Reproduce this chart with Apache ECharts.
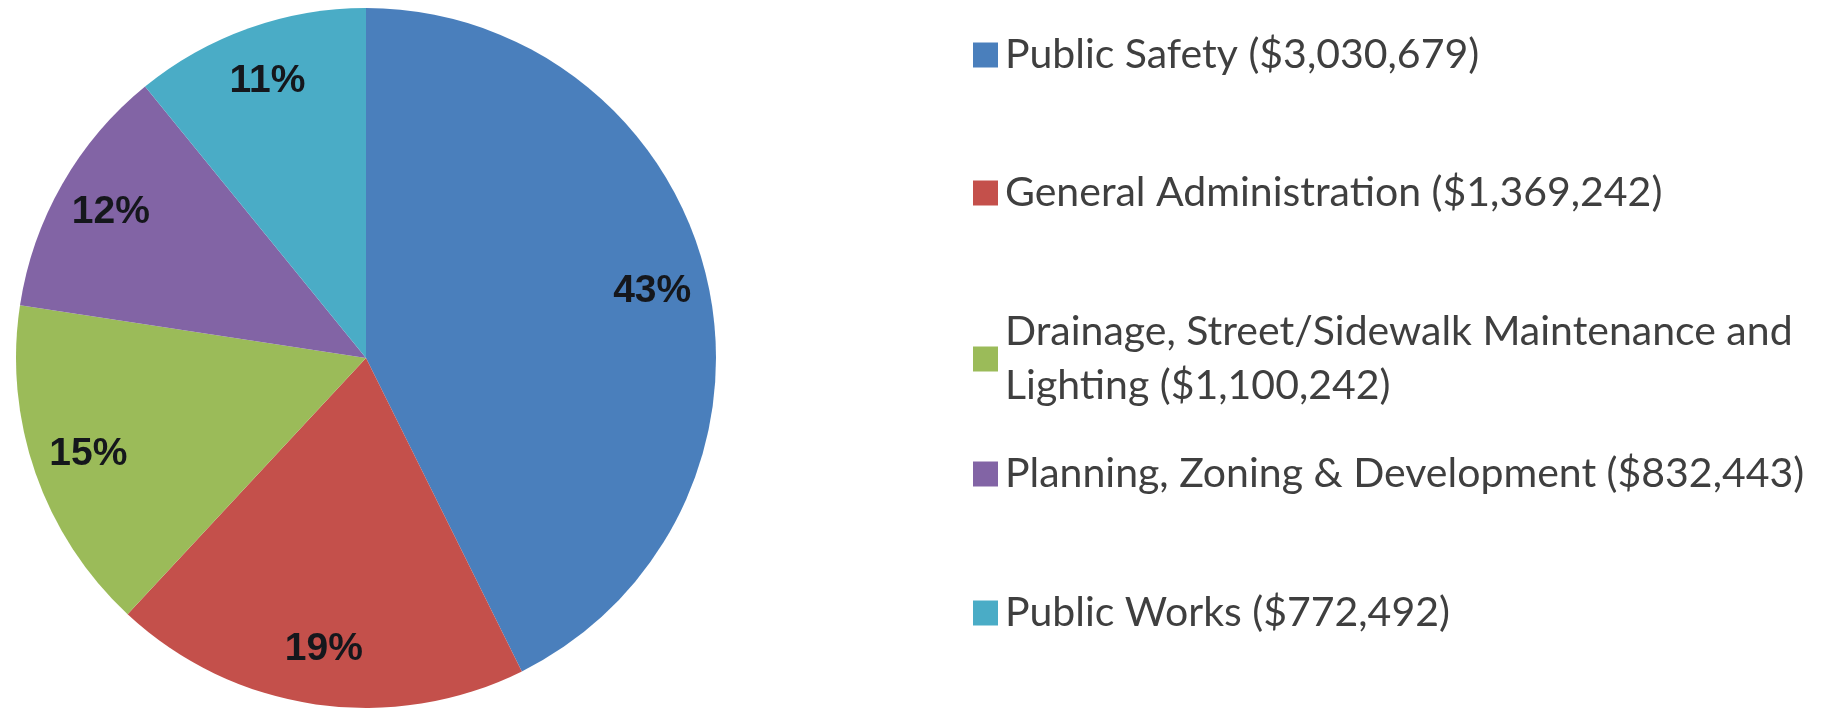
<!DOCTYPE html>
<html>
<head>
<meta charset="utf-8">
<script src="https://cdn.jsdelivr.net/npm/echarts@6/dist/echarts.min.js"></script>
<style>
  html, body { margin: 0; padding: 0; background: #fff; }
  #chart { width: 1822px; height: 709px; }
</style>
</head>
<body>
<div id="chart"></div>
<script>
// budget by department
var categories = [
    'Public Safety',
    'General Administration',
    'Drainage, Street/Sidewalk Maintenance and Lighting',
    'Planning, Zoning & Development',
    'Public Works'
];
var amounts = [3030679, 1369242, 1100242, 832443, 772492];
var legendText = [
    'Public Safety ($3,030,679)',
    'General Administration ($1,369,242)',
    'Drainage, Street/Sidewalk Maintenance and\nLighting ($1,100,242)',
    'Planning, Zoning & Development ($832,443)',
    'Public Works ($772,492)'
];
var colors = ['#4a7fbc', '#c4504b', '#9bbb59', '#8264a5', '#4aacc6'];

var myChart = echarts.init(document.getElementById('chart'));

var pieData = categories.map(function (name, i) {
    return { name: name, value: amounts[i], itemStyle: { color: colors[i] } };
});

// top of each legend box, tuned so the icons sit where the original has them
var rowTop = [23, 161, 273, 442, 581];
var legends = categories.map(function (name, i) {
    var twoLine = legendText[i].indexOf('\n') >= 0;
    return {
        orient: 'vertical',
        left: 968,
        top: rowTop[i],
        itemWidth: 25,
        itemHeight: 25,
        icon: 'rect',
        selectedMode: false,
        data: [name],
        formatter: function () { return legendText[i]; },
        textStyle: {
            fontFamily: 'Lato',
            fontSize: 41,
            lineHeight: 54,
            color: '#3f3f3f',
            padding: twoLine ? [54, 0, 0, 2] : [0, 0, 0, 2]
        }
    };
});

myChart.setOption({
    animation: false,
    color: colors,
    legend: legends,
    series: [
        {
            // the coloured slices
            type: 'pie',
            center: [366, 358],
            radius: 350,
            startAngle: 90,
            silent: true,
            label: { show: false },
            labelLine: { show: false },
            data: pieData
        },
        {
            // transparent ring that only carries the percent labels
            type: 'pie',
            center: [366, 358],
            radius: [232, 350],
            startAngle: 90,
            silent: true,
            legendHoverLink: false,
            itemStyle: { color: 'rgba(0,0,0,0)' },
            label: {
                show: true,
                position: 'inside',
                formatter: function (p) { return Math.round(p.percent) + '%'; },
                fontFamily: 'Liberation Sans',
                fontWeight: 'bold',
                fontSize: 39,
                color: '#15171c'
            },
            labelLine: { show: false },
            data: categories.map(function (name, i) {
                return { name: name, value: amounts[i] };
            })
        }
    ]
});
</script>
</body>
</html>
